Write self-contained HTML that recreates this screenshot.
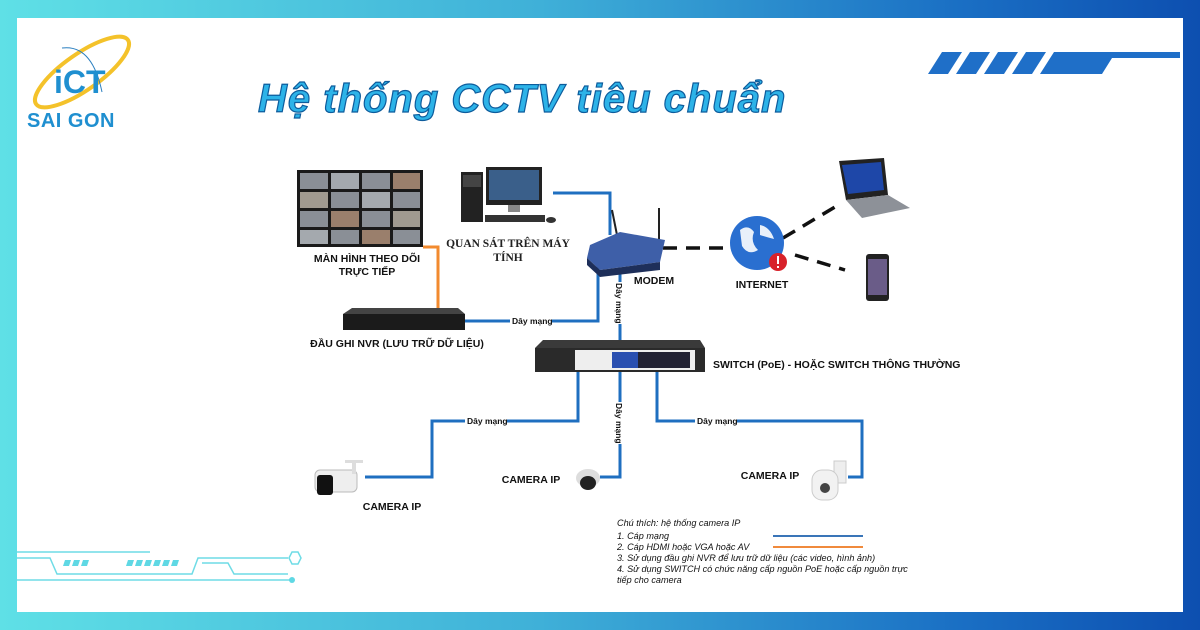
<!DOCTYPE html>
<html><head><meta charset="utf-8"><style>
html,body{margin:0;padding:0;width:1200px;height:630px;overflow:hidden}
body{background:linear-gradient(90deg,#5fe0e6 0%,#3fb0d8 45%,#1a6fc4 80%,#0d4fb0 100%)}
svg{position:absolute;left:0;top:0}
text{font-family:"Liberation Sans",sans-serif}
</style></head><body>
<svg width="1200" height="630" viewBox="0 0 1200 630">
<rect x="17" y="18" width="1166" height="594" fill="#fff"/>
<g fill="#1f6fc8">
<polygon points="942,52 962,52 948,74 928,74"/>
<polygon points="970,52 990,52 976,74 956,74"/>
<polygon points="998,52 1018,52 1004,74 984,74"/>
<polygon points="1026,52 1046,52 1032,74 1012,74"/>
<polygon points="1054,52 1180,52 1180,58 1112,58 1102,74 1040,74"/>
</g>
<g stroke="#6fdce6" stroke-width="1.5" fill="none">
<path d="M17,552 H150"/>
<path d="M17,558 H50 L57,574 H192 L198,558 H288"/>
<path d="M202,563 H228 L234,574 H288"/>
<path d="M17,580 H292"/>
<polygon points="292,552 298,552 301,558 298,564 292,564 289,558"/>
</g>
<circle cx="292" cy="580" r="3" fill="#5fd8e4"/>
<g fill="#5fd8e4">
<polygon points="65,560 71,560 69,566 63,566"/><polygon points="74,560 80,560 78,566 72,566"/><polygon points="83,560 89,560 87,566 81,566"/>
<polygon points="128,560 134,560 132,566 126,566"/><polygon points="137,560 143,560 141,566 135,566"/><polygon points="146,560 152,560 150,566 144,566"/><polygon points="155,560 161,560 159,566 153,566"/><polygon points="164,560 170,560 168,566 162,566"/><polygon points="173,560 179,560 177,566 171,566"/>
</g>
<!-- logo -->
<ellipse cx="82" cy="72" rx="56" ry="18" transform="rotate(-35 82 72)" fill="none" stroke="#f4c22a" stroke-width="4"/>
<path d="M62,48 Q92,44 102,92" stroke="#2a7fc0" stroke-width="1" fill="none"/>
<text x="54" y="93" font-size="32" fill="#1f8fd0" font-weight="bold">iCT</text>
<text x="27" y="127" font-size="20" fill="#1f8fd0" font-weight="bold" letter-spacing="0.5">SAI GON</text>
<!-- title -->
<text x="258" y="112" font-size="40" font-weight="bold" font-style="italic" fill="#2db3e8" stroke="#0d5c9c" stroke-width="1.2" letter-spacing="1">Hệ thống CCTV tiêu chuẩn</text>
<!-- cables -->
<g fill="none" stroke-width="3">
<path d="M423,247 H438 V308" stroke="#f28a2e"/>
<g stroke="#1f6fc0">
<path d="M465,321 H598 V252"/>
<path d="M553,193 H610 V235"/>
<path d="M620,268 V340"/>
<path d="M578,372 V421 H432 V477 H365"/>
<path d="M620,372 V477 H600"/>
<path d="M657,372 V421 H862 V477 H848"/>
</g>
</g>
<g stroke="#111" stroke-width="3.5" stroke-dasharray="14,9" fill="none">
<path d="M663,248 H732"/><path d="M783,238 L840,204"/><path d="M795,255 L845,270"/>
</g>
<g font-size="8.5" font-weight="bold" fill="#111">
<rect x="510" y="316" width="42" height="10" fill="#fff"/><text x="512" y="324">Dây mạng</text>
<rect x="465" y="416" width="42" height="10" fill="#fff"/><text x="467" y="424">Dây mạng</text>
<rect x="695" y="416" width="42" height="10" fill="#fff"/><text x="697" y="424">Dây mạng</text>
<g transform="translate(617,283) rotate(90)"><rect x="-1" y="-7" width="42" height="10" fill="#fff"/><text x="0" y="1">Dây mạng</text></g>
<g transform="translate(617,403) rotate(90)"><rect x="-1" y="-7" width="42" height="10" fill="#fff"/><text x="0" y="1">Dây mạng</text></g>
</g>
<!-- monitor wall -->
<rect x="297" y="170" width="126" height="77" fill="#1a1a1a"/>
<g fill="#8a8f96">
<rect x="300" y="173" width="28" height="16"/><rect x="331" y="173" width="28" height="16" fill="#a4a9ae"/><rect x="362" y="173" width="28" height="16"/><rect x="393" y="173" width="27" height="16" fill="#9a7f6c"/>
<rect x="300" y="192" width="28" height="16" fill="#a09a90"/><rect x="331" y="192" width="28" height="16"/><rect x="362" y="192" width="28" height="16" fill="#a4a9ae"/><rect x="393" y="192" width="27" height="16"/>
<rect x="300" y="211" width="28" height="16"/><rect x="331" y="211" width="28" height="16" fill="#9a7f6c"/><rect x="362" y="211" width="28" height="16"/><rect x="393" y="211" width="27" height="16" fill="#a09a90"/>
<rect x="300" y="230" width="28" height="14" fill="#a4a9ae"/><rect x="331" y="230" width="28" height="14"/><rect x="362" y="230" width="28" height="14" fill="#9a7f6c"/><rect x="393" y="230" width="27" height="14"/>
</g>
<!-- PC -->
<rect x="461" y="172" width="22" height="50" fill="#222"/><rect x="463" y="175" width="18" height="12" fill="#444"/>
<rect x="486" y="167" width="56" height="38" fill="#222"/><rect x="489" y="170" width="50" height="30" fill="#3a5f8a"/>
<rect x="508" y="205" width="12" height="7" fill="#888"/>
<rect x="485" y="215" width="60" height="7" fill="#333"/><ellipse cx="551" cy="220" rx="5" ry="3" fill="#333"/>
<!-- router -->
<line x1="612" y1="210" x2="617" y2="235" stroke="#222" stroke-width="2"/>
<line x1="659" y1="208" x2="659" y2="245" stroke="#222" stroke-width="2"/>
<polygon points="590,245 620,232 665,240 660,262 600,270 587,258" fill="#3e5fa8"/>
<polygon points="587,258 600,270 660,262 660,270 600,277 587,265" fill="#1e2f5a"/>
<!-- globe -->
<circle cx="757" cy="243" r="27" fill="#2a6fd0"/>
<path d="M740,230 q8,-6 14,2 q-4,10 4,18 q-10,6 -16,-4z M760,225 q10,2 14,14 q-8,-2 -14,-4z" fill="#e8f0fa"/>
<circle cx="778" cy="262" r="9" fill="#d8222a"/><rect x="777" y="256" width="2" height="8" fill="#fff"/><rect x="777" y="266" width="2" height="2" fill="#fff"/>
<!-- laptop -->
<polygon points="839,161 884,158 888,195 846,200" fill="#222"/>
<polygon points="842,165 881,162 884,190 848,194" fill="#1e47a8"/>
<polygon points="846,200 888,195 910,208 862,218" fill="#8d9198"/>
<!-- phone -->
<rect x="866" y="254" width="23" height="47" rx="3" fill="#222"/><rect x="868" y="259" width="19" height="36" fill="#6a5c88"/>
<!-- NVR -->
<polygon points="352,308 458,308 465,314 343,314" fill="#444"/>
<rect x="343" y="314" width="122" height="16" fill="#1b1b1b"/>
<!-- switch -->
<polygon points="543,340 700,340 705,348 535,348" fill="#3a3a3a"/>
<rect x="535" y="348" width="170" height="24" fill="#2a2a2a"/>
<rect x="575" y="350" width="120" height="20" fill="#eee"/>
<rect x="612" y="352" width="78" height="16" fill="#223"/>
<rect x="612" y="352" width="26" height="16" fill="#2a4fb0"/>
<!-- cameras -->
<rect x="315" y="470" width="42" height="22" rx="5" fill="#eee" stroke="#bbb"/>
<rect x="317" y="475" width="16" height="20" rx="3" fill="#111"/>
<rect x="352" y="460" width="4" height="14" fill="#ddd"/><rect x="345" y="460" width="18" height="3" fill="#ddd"/>
<ellipse cx="588" cy="478" rx="12" ry="9" fill="#ddd"/><ellipse cx="588" cy="483" rx="8" ry="7" fill="#222"/>
<rect x="834" y="461" width="12" height="22" fill="#eee" stroke="#ccc"/>
<rect x="812" y="470" width="26" height="30" rx="10" fill="#f2f2f2" stroke="#ccc"/><circle cx="825" cy="488" r="5" fill="#444"/>
<!-- labels -->
<g font-size="10.5" font-weight="bold" fill="#111" text-anchor="middle">
<text x="367" y="262">MÀN HÌNH THEO DÕI</text><text x="367" y="275">TRỰC TIẾP</text>
<text x="397" y="347">ĐẦU GHI NVR (LƯU TRỮ DỮ LIỆU)</text>
<text x="654" y="284">MODEM</text>
<text x="762" y="288">INTERNET</text>
<text x="392" y="510">CAMERA IP</text>
<text x="531" y="483">CAMERA IP</text>
<text x="770" y="479">CAMERA IP</text>
<text x="713" y="368" text-anchor="start">SWITCH (PoE) - HOẶC SWITCH THÔNG THƯỜNG</text>
</g>
<g font-size="11.5" font-weight="bold" fill="#222" text-anchor="middle">
<text x="508" y="247" style="font-family:'Liberation Serif',serif">QUAN SÁT TRÊN MÁY</text>
<text x="508" y="261" style="font-family:'Liberation Serif',serif">TÍNH</text>
</g>
<g font-size="9.1" font-style="italic" fill="#111">
<text x="617" y="526">Chú thích: hệ thống camera IP</text>
<text x="617" y="539">1. Cáp mạng</text>
<text x="617" y="550">2. Cáp HDMI hoặc VGA hoặc AV</text>
<text x="617" y="561">3. Sử dụng đầu ghi NVR để lưu trữ dữ liệu (các video, hình ảnh)</text>
<text x="617" y="572">4. Sử dụng SWITCH có chức năng cấp nguồn PoE hoặc cấp nguồn trực</text>
<text x="617" y="583">tiếp cho camera</text>
</g>
<line x1="773" y1="536" x2="863" y2="536" stroke="#3a75b8" stroke-width="2"/>
<line x1="773" y1="547" x2="863" y2="547" stroke="#f08a3c" stroke-width="2"/>
</svg>
</body></html>
